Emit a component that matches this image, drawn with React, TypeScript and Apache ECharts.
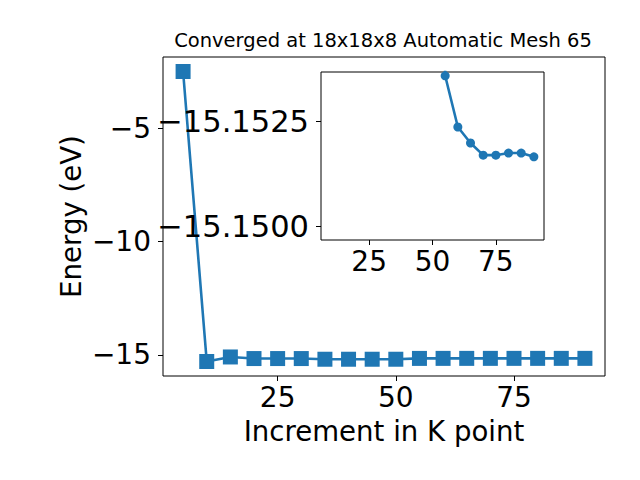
import React, { useEffect, useRef } from "react";
import * as echarts from "echarts";

const kPoints = [5, 10, 15, 20, 25, 30, 35, 40, 45, 50, 55, 60, 65, 70, 75, 80, 85, 90];
const energies = [
  -2.49, -15.29, -15.09, -15.16, -15.16, -15.16, -15.19, -15.19, -15.19, -15.19,
  -15.15358, -15.15236, -15.15198, -15.15169, -15.15169, -15.15174, -15.15174, -15.15165,
];
const insetStartIndex = 3;
const mainXTicks = [25, 50, 75];
const mainYTicks = [-15, -10, -5];
const insetXTicks = [25, 50, 75];
const insetYTicks = [-15.1525, -15.15];
const titleText = "Converged at 18x18x8 Automatic Mesh 65";
const xName = "Increment in K point";
const yName = "Energy (eV)";

const FONT = "DejaVu Sans";
const BLUE = "#1f77b4";

const minus = (s: string) => s.replace("-", "\u2212");

export default function App() {
  const ref = useRef<HTMLDivElement>(null);
  useEffect(() => {
    if (!ref.current) return;
    const chart = echarts.init(ref.current, null, { renderer: "svg" });
    const mainData = kPoints.map((x, i) => [x, energies[i]]);
    const insetData = kPoints.slice(insetStartIndex).map((x, i) => [x, energies[i + insetStartIndex]]);
    const tickStyle = { show: true, length: 5, inside: false, lineStyle: { color: "#000", width: 1 } };
    chart.setOption({
      animation: false,
      backgroundColor: "#fff",
      graphic: [
        {
          type: "text",
          x: 383,
          y: 30,
          style: { text: titleText, font: `19.5px '${FONT}'`, fill: "#000", textAlign: "center", textVerticalAlign: "top" },
          z: 10,
        },
      ],
      grid: [
        { left: 163, right: 35, top: 57, bottom: 104, show: true, borderColor: "#000", borderWidth: 1, backgroundColor: "#fff" },
        { left: 321, right: 96, top: 72, bottom: 240, show: true, borderColor: "#000", borderWidth: 1, backgroundColor: "#fff", z: 5 },
      ],
      xAxis: [
        {
          type: "value",
          gridIndex: 0,
          min: 0.75,
          max: 94.25,
          splitLine: { show: false },
          axisLine: { show: false },
          axisTick: { ...tickStyle, customValues: mainXTicks },
          axisLabel: { customValues: mainXTicks, fontFamily: FONT, fontSize: 28, color: "#000", margin: 7 },
          name: xName,
          nameLocation: "middle",
          nameGap: 41,
          nameMoveOverlap: false,
          nameTextStyle: { fontFamily: FONT, fontSize: 27.6, color: "#000" },
        },
        {
          type: "value",
          gridIndex: 1,
          min: 6,
          max: 94,
          splitLine: { show: false },
          axisLine: { show: false },
          axisTick: { ...tickStyle, customValues: insetXTicks },
          axisLabel: { customValues: insetXTicks, fontFamily: FONT, fontSize: 28, color: "#000", margin: 7 },
          z: 5,
        },
      ],
      yAxis: [
        {
          type: "value",
          gridIndex: 0,
          min: -15.93,
          max: -1.85,
          splitLine: { show: false },
          axisLine: { show: false },
          axisTick: { ...tickStyle, customValues: mainYTicks },
          axisLabel: {
            customValues: mainYTicks,
            fontFamily: FONT,
            fontSize: 28,
            color: "#000",
            margin: 12,
            formatter: (v: number) => minus(String(v)),
          },
          name: yName,
          nameLocation: "middle",
          nameGap: 78,
          nameMoveOverlap: false,
          nameTextStyle: { fontFamily: FONT, fontSize: 27.6, color: "#000" },
        },
        {
          type: "value",
          gridIndex: 1,
          inverse: true,
          min: -15.15367,
          max: -15.14967,
          splitLine: { show: false },
          axisLine: { show: false },
          axisTick: { ...tickStyle, customValues: insetYTicks },
          axisLabel: {
            customValues: insetYTicks,
            fontFamily: FONT,
            fontSize: 30.5,
            color: "#000",
            margin: 12,
            formatter: (v: number) => minus(v.toFixed(4)),
          },
          z: 5,
        },
      ],
      series: [
        {
          type: "line",
          xAxisIndex: 0,
          yAxisIndex: 0,
          data: mainData,
          symbol: "rect",
          symbolSize: 15,
          showAllSymbol: true,
          lineStyle: { color: BLUE, width: 2.6 },
          itemStyle: { color: BLUE },
          clip: true,
        },
        {
          type: "line",
          xAxisIndex: 1,
          yAxisIndex: 1,
          data: insetData,
          symbol: "circle",
          symbolSize: 9,
          showAllSymbol: true,
          lineStyle: { color: BLUE, width: 2.6 },
          itemStyle: { color: BLUE },
          clip: true,
          z: 6,
        },
      ],
    });
    return () => chart.dispose();
  }, []);
  return <div ref={ref} style={{ width: 640, height: 480, position: "absolute", left: 0, top: 0 }} />;
}
